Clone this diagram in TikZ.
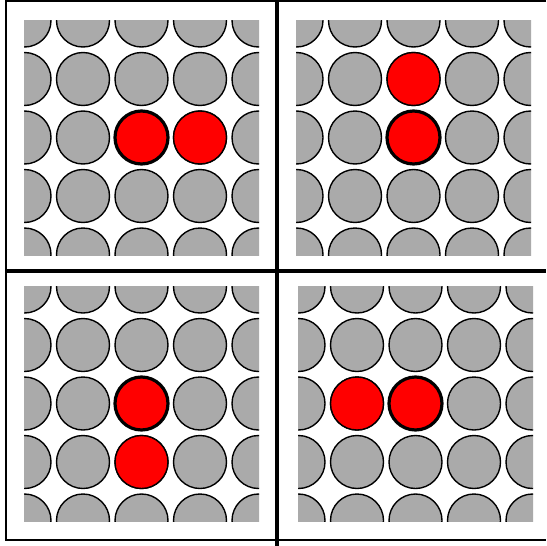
\documentclass[tikz,border=0pt]{standalone}
\usepackage{tikz}
\definecolor{discgray}{HTML}{AAAAAA}
\definecolor{discred}{HTML}{FF0000}

\begin{document}
\begin{tikzpicture}[x=0.5pt, y=-0.5pt,
  disc/.style={fill=discgray, draw=black, line width=0.7pt},
  hot/.style={fill=discred, draw=black, line width=0.7pt},
  pivot/.style={fill=discred, draw=black, line width=1.6pt},
  divider/.style={line width=2.25pt}]

\useasboundingbox (0,0) rectangle (546,546);

% grid spacing, disc radius and half the panel width
\def\sp{58.5}\def\rr{26.5}\def\half{117.5}

% one panel per centre, with the direction of the second red disc
\foreach \cx/\cy/\dx/\dy in {141.5/137.5/1/0, 413.5/137.5/0/-1,
                             141.5/403.5/0/1, 415.5/403.5/-1/0}{
  \begin{scope}[shift={(\cx,\cy)}]
    \clip (-\half,-\half) rectangle (\half,\half);
    \foreach \i in {-2,...,2}
      \foreach \j in {-2,...,2}
        \draw[disc] (\i*\sp,\j*\sp) circle (\rr);
    \draw[hot] (\dx*\sp,\dy*\sp) circle (\rr);
    \draw[pivot] (0,0) circle (\rr);
  \end{scope}
}

% outer frame and dividers
\draw[line width=1pt] (546,1) -- (6,1) -- (6,540) -- (546,540);
\draw[divider] (277,0) -- (277,546);
\draw[divider] (6,270.8) -- (546,270.8);

\end{tikzpicture}
\end{document}
